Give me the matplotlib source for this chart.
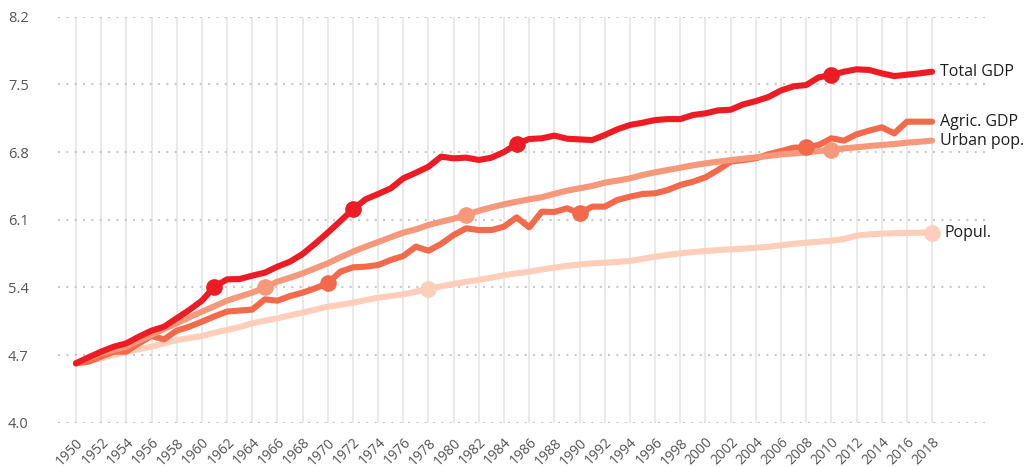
import matplotlib
matplotlib.use("Agg")
import matplotlib.pyplot as plt

plt.rcParams['font.family'] = ['Open Sans', 'DejaVu Sans']

years = list(range(1950, 2019))

total_gdp = [4.614, 4.676, 4.735, 4.786, 4.821, 4.890, 4.952, 4.993, 5.080, 5.166,
             5.262, 5.407, 5.483, 5.486, 5.521, 5.552, 5.614, 5.666, 5.745, 5.852,
             5.966, 6.086, 6.207, 6.311, 6.366, 6.424, 6.528, 6.586, 6.648, 6.752,
             6.735, 6.742, 6.718, 6.742, 6.800, 6.883, 6.935, 6.942, 6.970, 6.938,
             6.931, 6.924, 6.976, 7.035, 7.080, 7.103, 7.131, 7.141, 7.141, 7.183,
             7.200, 7.231, 7.238, 7.293, 7.327, 7.369, 7.437, 7.480, 7.493, 7.573,
             7.597, 7.631, 7.656, 7.649, 7.614, 7.586, 7.600, 7.614, 7.631]

agric_gdp = [4.614, 4.631, 4.683, 4.735, 4.735, 4.821, 4.897, 4.862, 4.952, 4.993,
             5.045, 5.100, 5.150, 5.160, 5.170, 5.276, 5.262, 5.310, 5.345, 5.390,
             5.442, 5.562, 5.607, 5.614, 5.631, 5.683, 5.724, 5.821, 5.779, 5.849,
             5.942, 6.011, 5.993, 5.993, 6.028, 6.124, 6.021, 6.183, 6.180, 6.218,
             6.166, 6.235, 6.235, 6.304, 6.338, 6.366, 6.373, 6.407, 6.459, 6.493,
             6.538, 6.614, 6.700, 6.717, 6.735, 6.776, 6.810, 6.845, 6.849, 6.873,
             6.942, 6.918, 6.983, 7.021, 7.056, 6.993, 7.114, 7.114, 7.114]

urban_pop = [4.614, 4.670, 4.720, 4.755, 4.786, 4.850, 4.907, 4.970, 5.028, 5.090,
             5.149, 5.205, 5.262, 5.305, 5.345, 5.400, 5.459, 5.500, 5.545, 5.597,
             5.649, 5.711, 5.769, 5.821, 5.869, 5.918, 5.966, 6.000, 6.045, 6.079,
             6.110, 6.149, 6.193, 6.228, 6.259, 6.286, 6.311, 6.332, 6.368, 6.400,
             6.425, 6.449, 6.483, 6.504, 6.528, 6.562, 6.590, 6.614, 6.638, 6.662,
             6.683, 6.700, 6.717, 6.731, 6.745, 6.759, 6.776, 6.785, 6.797, 6.811,
             6.821, 6.838, 6.849, 6.862, 6.873, 6.883, 6.897, 6.907, 6.918]

popul = [4.614, 4.640, 4.666, 4.700, 4.735, 4.760, 4.786, 4.820, 4.855, 4.875,
         4.897, 4.930, 4.959, 4.990, 5.028, 5.055, 5.080, 5.110, 5.138, 5.170,
         5.200, 5.220, 5.241, 5.268, 5.293, 5.310, 5.328, 5.355, 5.385, 5.410,
         5.435, 5.458, 5.478, 5.500, 5.525, 5.545, 5.562, 5.585, 5.605, 5.622,
         5.638, 5.647, 5.655, 5.664, 5.673, 5.695, 5.717, 5.735, 5.752, 5.765,
         5.776, 5.785, 5.793, 5.800, 5.810, 5.820, 5.835, 5.850, 5.862, 5.872,
         5.883, 5.900, 5.935, 5.948, 5.955, 5.960, 5.963, 5.965, 5.966]

# drawn bottom to top
series = [
    ("Popul.", popul, "#fdcfba", [1978, 2018]),
    ("Agric. GDP", agric_gdp, "#f2694b", [1970, 1990, 2008]),
    ("Urban pop.", urban_pop, "#f6987a", [1965, 1981, 2010]),
    ("Total GDP", total_gdp, "#ed1c24", [1961, 1972, 1985, 2010]),
]

y_ticks = [4.0, 4.7, 5.4, 6.1, 6.8, 7.5, 8.2]
x_ticks = list(range(1950, 2019, 2))


def draw_series(ax, name, values, color, marks):
    ax.plot(years, values, color=color, lw=4.4, solid_joinstyle="round",
            solid_capstyle="round", zorder=3)
    my = [values[years.index(y)] for y in marks]
    ax.plot(marks, my, "o", color=color, ms=12, mew=0, zorder=4)
    off = 9 if name == "Popul." else 6
    ax.annotate(name, (years[-1], values[-1]), xytext=(off, 0),
                textcoords="offset points", va="center", ha="left",
                fontsize=11.5, color="#1e1e1e")


fig = plt.figure(figsize=(10.26, 4.67), dpi=100)
ax = fig.add_axes([0.0565, 0.0949, 0.9084, 0.8693])

for name, values, color, marks in series:
    draw_series(ax, name, values, color, marks)

ax.set_xlim(1948.57, 2022.6)
ax.set_ylim(4.0, 8.2)
ax.set_yticks(y_ticks)
ax.set_yticklabels(["%.1f" % v for v in y_ticks])
ax.set_xticks(x_ticks)
ax.set_xticklabels([str(y) for y in x_ticks], rotation=45, ha="right",
                   rotation_mode="anchor")

ax.grid(axis="x", color="#e3e3e3", lw=1.1, zorder=0)
ax.grid(axis="y", color="#c9c9c9", lw=1.5, linestyle=(0, (1, 3)), zorder=0)
for s in ax.spines.values():
    s.set_visible(False)
ax.tick_params(axis="both", length=0, colors="#555555")
ax.tick_params(axis="y", labelsize=10.5, pad=21)
ax.tick_params(axis="x", labelsize=10, pad=9)

fig.savefig("out.png", dpi=100)
